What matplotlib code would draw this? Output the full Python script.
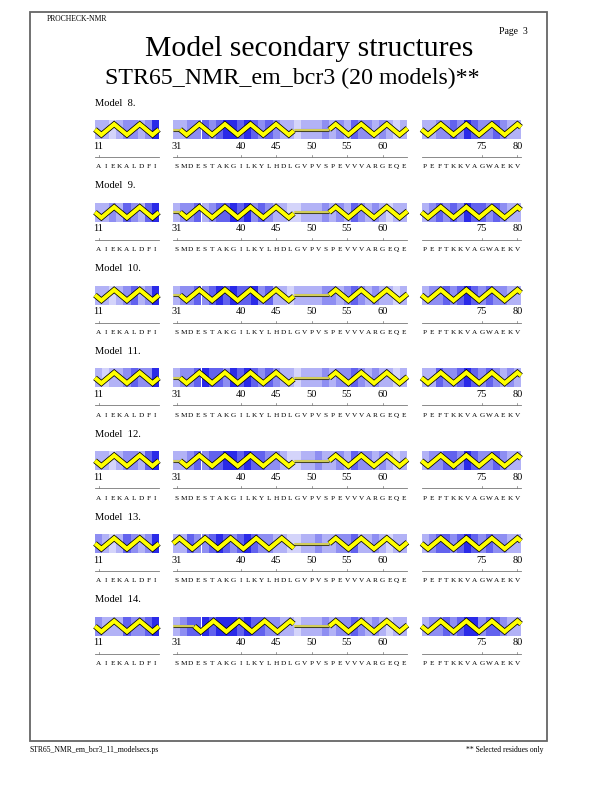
import numpy as np
import matplotlib
matplotlib.use('Agg')
import matplotlib.pyplot as plt
from matplotlib.patches import Rectangle

plt.rcParams['font.family'] = ['Liberation Serif', 'DejaVu Serif']

# ---- data ----
models = [8, 9, 10, 11, 12, 13, 14]
seg_start = [11, 31, 67]
seg_seq = ['AIEKALDFI', 'SMDESTAKGILKYLHDLGVPVSPEVVVARGEQE', 'PEFTKKVAGWAEKV']
seg_ticks = [[11], [31, 40, 45, 50, 55, 60], [75, 80]]

# shading level (0 = light, 4 = dark blue) per residue, seg1 | seg2 | seg3
shade_m8 = [1, 1, 0, 1, 2, 2, 1, 2, 4,
            1, 1, 2, 2, 3, 2, 3, 4, 4, 3, 4, 3, 2, 3, 2, 1, 1, 0, 1, 1, 1, 2, 1, 2, 1, 3, 2, 2, 1, 2, 1, 0, 1,
            1, 1, 2, 2, 3, 2, 4, 3, 2, 2, 3, 2, 1, 1]
shade_m9 = [1, 1, 2, 1, 3, 2, 1, 3, 4,
            1, 2, 2, 3, 1, 2, 3, 3, 4, 3, 4, 2, 3, 2, 1, 1, 0, 0, 1, 1, 1, 2, 1, 2, 1, 3, 2, 1, 2, 1, 0, 1, 1,
            1, 2, 3, 2, 3, 2, 4, 3, 3, 2, 3, 2, 1, 1]
shade_m10 = [1, 1, 0, 1, 2, 3, 1, 2, 4,
             1, 2, 2, 3, 2, 3, 4, 3, 4, 3, 3, 4, 2, 3, 1, 1, 0, 1, 1, 1, 1, 2, 2, 1, 2, 3, 2, 1, 2, 1, 1, 0, 1,
             1, 2, 2, 3, 2, 3, 4, 3, 2, 3, 2, 2, 1, 1]
shade_m11 = [1, 0, 1, 1, 2, 3, 2, 2, 4,
             1, 2, 2, 3, 4, 3, 3, 2, 4, 3, 4, 3, 2, 3, 2, 1, 1, 0, 1, 1, 1, 2, 1, 2, 2, 3, 2, 1, 2, 1, 1, 0, 1,
             1, 1, 3, 2, 2, 3, 4, 3, 2, 3, 2, 1, 2, 1]
shade_m12 = [1, 1, 0, 1, 2, 2, 1, 3, 4,
             1, 1, 2, 3, 2, 3, 3, 4, 4, 3, 4, 3, 3, 2, 2, 1, 0, 0, 1, 1, 2, 1, 1, 2, 1, 3, 2, 2, 1, 2, 1, 0, 1,
             1, 2, 2, 3, 3, 2, 4, 3, 2, 2, 3, 2, 1, 1]
shade_m13 = [2, 1, 0, 1, 3, 2, 1, 2, 4,
             1, 1, 3, 2, 2, 3, 4, 3, 2, 3, 4, 3, 2, 2, 1, 1, 0, 0, 1, 1, 2, 1, 1, 2, 2, 3, 1, 1, 2, 1, 0, 1, 1,
             1, 2, 3, 3, 2, 3, 4, 3, 2, 3, 2, 2, 1, 1]
shade_m14 = [2, 1, 1, 1, 3, 2, 2, 3, 4,
             1, 2, 3, 3, 4, 3, 4, 4, 4, 3, 4, 3, 3, 2, 2, 1, 1, 0, 1, 1, 1, 2, 1, 2, 2, 3, 2, 1, 2, 1, 0, 1, 1,
             1, 2, 2, 3, 2, 3, 4, 4, 2, 3, 3, 2, 1, 1]
shades = [shade_m8, shade_m9, shade_m10, shade_m11, shade_m12, shade_m13, shade_m14]

# secondary structure per residue: H = helix, - = coil
ss_m8 = 'HHHHHHHHH' + '-' + 'H' * 16 + '-' * 5 + 'H' * 11 + 'H' * 14
ss_m9 = ss_m8
ss_m10 = ss_m8
ss_m11 = ss_m8
ss_m12 = ss_m8
ss_m13 = 'HHHHHHHHH' + 'H' * 17 + '-' * 5 + 'H' * 11 + 'H' * 14
ss_m14 = 'HHHHHHHHH' + '---' + 'H' * 14 + '-' * 5 + 'H' * 11 + 'H' * 14
ss_all = [ss_m8, ss_m9, ss_m10, ss_m11, ss_m12, ss_m13, ss_m14]
# first swing of each helix run (-1 down, +1 up)
helix_dir = {8: [-1, -1, 1, -1], 9: [-1, -1, 1, -1], 10: [-1, -1, 1, -1],
             11: [-1, -1, 1, -1], 12: [-1, -1, 1, -1], 13: [-1, 1, 1, -1],
             14: [-1, -1, 1, -1]}

shade_colors = ['#d4d4fa', '#b2b2f6', '#8e8ef2', '#6262ee', '#2a2ae8']

# ---- layout ----
W, H = 612, 792
unit = 7.1                      # px per residue
x_left = 95
row_top0, row_step, box_h = 120, 82.8, 19
gap = 2

# position of each segment's first residue (in residue units)
seg_off = []
p = 0
for s in seg_seq:
    seg_off.append(p)
    p += len(s) + gap
n_units = p - gap


def fx(x):
    return x / W


def fy(y):
    return 1 - y / H


fig = plt.figure(figsize=(W / 100, H / 100), dpi=100)

fig.add_artist(Rectangle((fx(30), fy(741)), 517 / W, 729 / H, transform=fig.transFigure,
                         fill=False, ec='#666666', lw=1.3))
fig.text(fx(47), fy(19), 'PROCHECK-NMR', fontsize=5.5, va='center')
fig.text(fx(528), fy(32), 'Page  3', fontsize=7, va='center', ha='right')
fig.text(fx(309), fy(49), 'Model secondary structures', fontsize=21.3, ha='center', va='center')
fig.text(fx(292), fy(78), 'STR65_NMR_em_bcr3 (20 models)**', fontsize=17.2, ha='center', va='center')
fig.text(fx(30), fy(750), 'STR65_NMR_em_bcr3_11_modelsecs.ps', fontsize=5.5, va='center')
fig.text(fx(543), fy(750), '** Selected residues only', fontsize=5.5, va='center', ha='right')

A = 0.28
for i, m in enumerate(models):
    top = row_top0 + i * row_step
    ax = fig.add_axes([fx(x_left), fy(top + box_h), n_units * unit / W, box_h / H])
    ax.set_xlim(0, n_units)
    ax.set_ylim(0, 1)
    ax.axis('off')
    tr = ax.get_xaxis_transform()

    fig.text(fx(x_left), fy(top - 17), f'Model  {m}.', fontsize=7.6, va='center')

    sh = shades[i]
    ss = ss_all[i]
    dirs = list(helix_dir[m])
    k = 0
    for s, (seq, r0, off) in enumerate(zip(seg_seq, seg_start, seg_off)):
        n = len(seq)
        pos = off + np.arange(n)
        ax.bar(pos, 1, width=1, bottom=0, align='edge',
               color=[shade_colors[v] for v in sh[k:k + n]], lw=0)

        # runs of secondary structure
        seg_ss = ss[k:k + n]
        j = 0
        while j < n:
            c = seg_ss[j]
            e = j
            while e < n and seg_ss[e] == c:
                e += 1
            x0, x1 = off + j, off + e
            if c == 'H':
                d = dirs.pop(0)
                xs = [x0]
                xv = x0 + 0.9
                while xv < x1:
                    xs.append(xv)
                    xv += 1.8
                xs.append(x1)
                xs = np.array(xs)
                t = (xs - x0) / 3.6
                ys = 0.5 + d * A * (2 / np.pi) * np.arcsin(np.clip(np.sin(2 * np.pi * t), -1, 1))
                ax.plot(xs, ys, color='black', lw=4.0, solid_joinstyle='miter',
                        solid_capstyle='butt', zorder=4, clip_on=False)
                ax.plot(xs, ys, color='#ffff00', lw=2.9, solid_joinstyle='miter',
                        solid_capstyle='butt', zorder=5, clip_on=False)
            else:
                ax.plot([x0, x1], [0.5, 0.5], color='#444422', lw=2.2,
                        solid_capstyle='butt', zorder=2)
                ax.plot([x0, x1], [0.5, 0.5], color='#eee866', lw=1.2,
                        solid_capstyle='butt', zorder=3)
            j = e

        # residue numbers
        for r in seg_ticks[s]:
            xc = off + (r - r0) + 0.5
            ax.text(xc, -0.37, str(r), transform=tr, fontsize=7.5, ha='center', va='center')
            ax.plot([xc, xc], [-0.95, -0.84], transform=tr, color='#777777', lw=0.5, clip_on=False)

        # sequence line and letters
        ax.plot([off, off + n], [-0.95, -0.95], transform=tr, color='#777777', lw=0.6, clip_on=False)
        for q, letter in enumerate(seq):
            ax.text(off + q + 0.5, -1.47, letter, transform=tr, fontsize=5.2,
                    ha='center', va='center')
        k += n

fig.savefig('out.png', dpi=100)
